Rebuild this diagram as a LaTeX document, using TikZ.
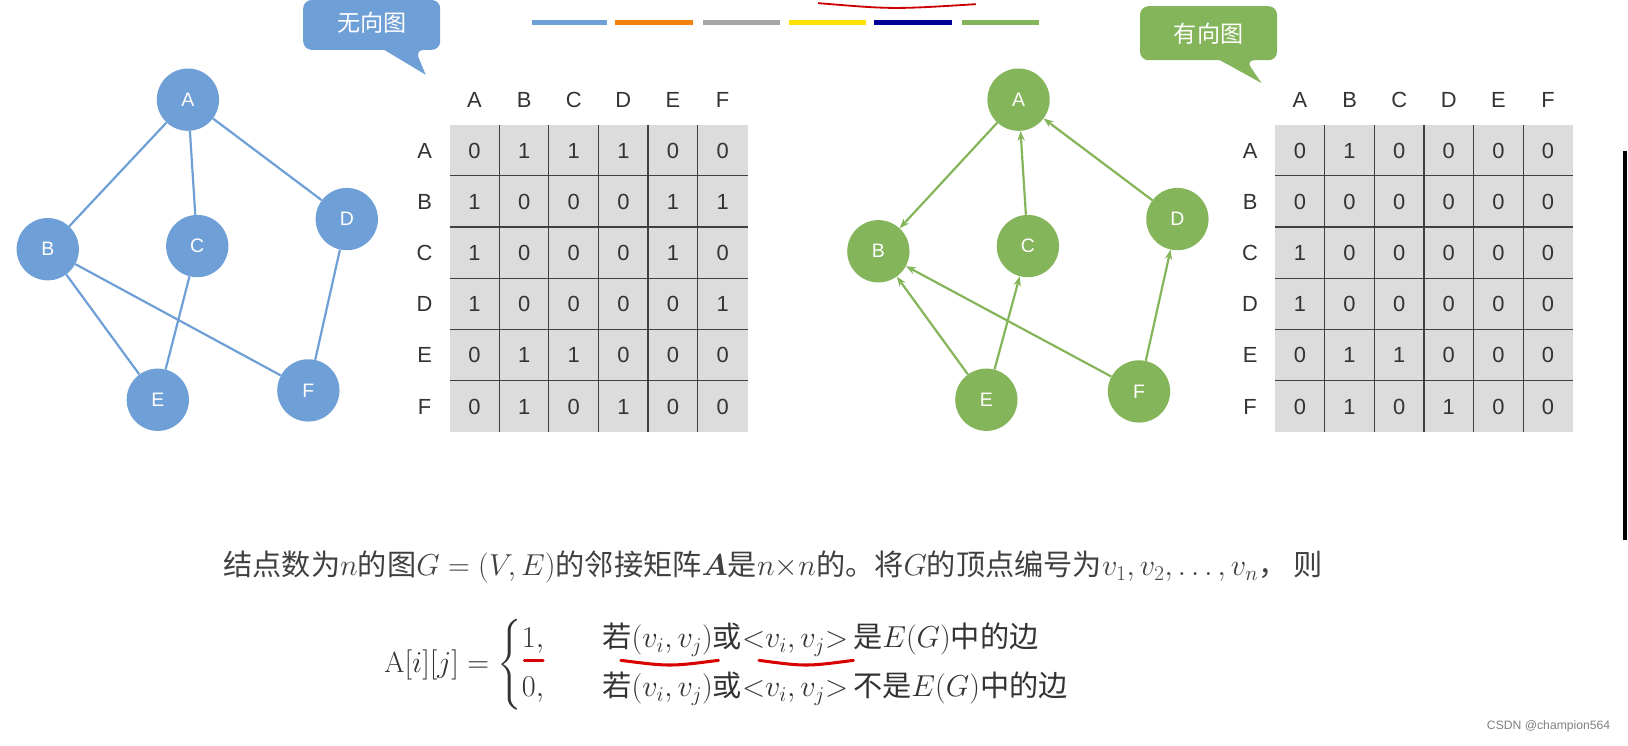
\documentclass[tikz,border=0pt]{standalone}
\usepackage{amsmath}
\usepackage{fontspec}
\setsansfont{Liberation Sans}
\newfontfamily\cjk{Noto Sans CJK SC}
\usetikzlibrary{arrows.meta}
\definecolor{ublue}{HTML}{6E9FD6}
\definecolor{dgreen}{HTML}{84B55A}
\definecolor{cellg}{HTML}{DCDCDC}
\tikzset{
 vtx/.style={circle,minimum size=1.8cm,inner sep=0pt,text=white,font=\sffamily\fontsize{16}{18}\selectfont},
 uv/.style={vtx,fill=ublue},
 dv/.style={vtx,fill=dgreen},
 ue/.style={ublue,line width=1.8pt},
 de/.style={dgreen,line width=1.8pt,-{Stealth[length=8pt]}},
 mt/.style={font=\sffamily\fontsize{18}{20}\selectfont,text=black!80},
 body/.style={font=\fontsize{24}{27}\selectfont,anchor=west,inner sep=0pt},
 redmark/.style={red!85!black,line width=2.5pt,line cap=round}
}
\newcommand{\mymatrix}[3]{%
 \fill[cellg] (#1,120) rectangle (#1+287,416);
 \foreach \k in {1,...,5}{\draw[black!75,line width=1pt] (#1+\k*47.8,120) -- (#1+\k*47.8,416);
   \draw[black!75,line width=1pt] (#1,120+\k*49.3) -- (#1+287,120+\k*49.3);}
 \foreach \l [count=\k] in {A,B,C,D,E,F}{
   \node[mt] (#3h\l) at (#1+24+\k*47.8-47.8,96) {\l};
   \node[mt] (#3r\l) at (#1-24,145+\k*49.3-49.3) {\l};}
 \foreach \row [count=\r] in {#2}{
   \foreach \v [count=\c] in \row {\node[mt] (#3c\r\c) at (#1+24+\c*47.8-47.8,145+\r*49.3-49.3) {\v};}}
}
\begin{document}
\begin{tikzpicture}[x=0.03cm,y=-0.03cm]
\useasboundingbox[fill=white] (0,0) rectangle (1568,718);
% color strip
\foreach \a/\b/\c in {512/585/ublue,592/667/orange!80!brown,677/751/gray!70,760/834/yellow!85!orange,842/917/blue!60!black,927/1001/dgreen}
  \draw[\c,line width=4pt] (\a,22) -- (\b,22);
\draw[red!80!black,line width=1.5pt] (788,3) .. controls (860,9) .. (940,4);
% callouts
\fill[ublue,rounded corners=7] (292,0) -- (424,0) -- (424,48) -- (400,48) [sharp corners] -- (410,72) -- (370,48) [rounded corners=7] -- (292,48) -- cycle;
\node[text=white,font=\cjk\fontsize{19}{21}\selectfont] (cu) at (358,22) {无向图};
\fill[dgreen,rounded corners=7] (1098,6) -- (1230,6) -- (1230,58) -- (1200,58) [sharp corners] -- (1215,80) -- (1175,58) [rounded corners=7] -- (1098,58) -- cycle;
\node[text=white,font=\cjk\fontsize{19}{21}\selectfont] (cd) at (1164,32) {有向图};
% undirected graph
\node[uv] (A) at (181,96) {A};
\node[uv] (B) at (46,240) {B};
\node[uv] (C) at (190,237) {C};
\node[uv] (D) at (334,211) {D};
\node[uv] (E) at (152,385) {E};
\node[uv] (F) at (297,376) {F};
\foreach \p/\q in {A/B,A/C,A/D,B/E,B/F,C/E,D/F} \draw[ue] (\p) -- (\q);
% directed graph
\node[dv] (dA) at (981,96) {A};
\node[dv] (dB) at (846,242) {B};
\node[dv] (dC) at (990,237) {C};
\node[dv] (dD) at (1134,211) {D};
\node[dv] (dE) at (950,385) {E};
\node[dv] (dF) at (1097,377) {F};
\foreach \p/\q in {dA/dB,dC/dA,dD/dA,dE/dB,dE/dC,dF/dB,dF/dD} \draw[de] (\p) -- (\q);
% matrices
\mymatrix{433}{{0,1,1,1,0,0},{1,0,0,0,1,1},{1,0,0,0,1,0},{1,0,0,0,0,1},{0,1,1,0,0,0},{0,1,0,1,0,0}}{u}
\mymatrix{1228}{{0,1,0,0,0,0},{0,0,0,0,0,0},{1,0,0,0,0,0},{1,0,0,0,0,0},{0,1,1,0,0,0},{0,1,0,1,0,0}}{d}
% right bar
\draw[black,line width=3pt] (1565,145) -- (1565,520);
% text
\node[body,text=black!75] (t1) at (215,546) {\cjk 结点数为$n$的图$G=(V,E)$的邻接矩阵$\boldsymbol{A}$是$n{\times}n$的。将$G$的顶点编号为$v_1,v_2,\ldots,v_n$，\ 则};
\node[body,text=black!80] (t2) at (370,640) {$\mathrm{A}[i][j]=\begin{cases}1, & \hspace{1em}\mbox{\cjk 若}(v_i,v_j)\mbox{\cjk 或}{<}v_i,v_j{>}\,\mbox{\cjk 是}E(G)\mbox{\cjk 中的边}\\[8pt] 0, & \hspace{1em}\mbox{\cjk 若}(v_i,v_j)\mbox{\cjk 或}{<}v_i,v_j{>}\,\mbox{\cjk 不是}E(G)\mbox{\cjk 中的边}\end{cases}$};
\draw[redmark] (598,636) .. controls (645,642) .. (692,636);
\draw[redmark] (731,636) .. controls (776,642) .. (822,636);
\draw[redmark] (505,636) -- (523,636);
\node[font=\sffamily\fontsize{10}{12}\selectfont,text=gray,anchor=east] (wm) at (1555,700) {CSDN @champion564};
\end{tikzpicture}
\end{document}
